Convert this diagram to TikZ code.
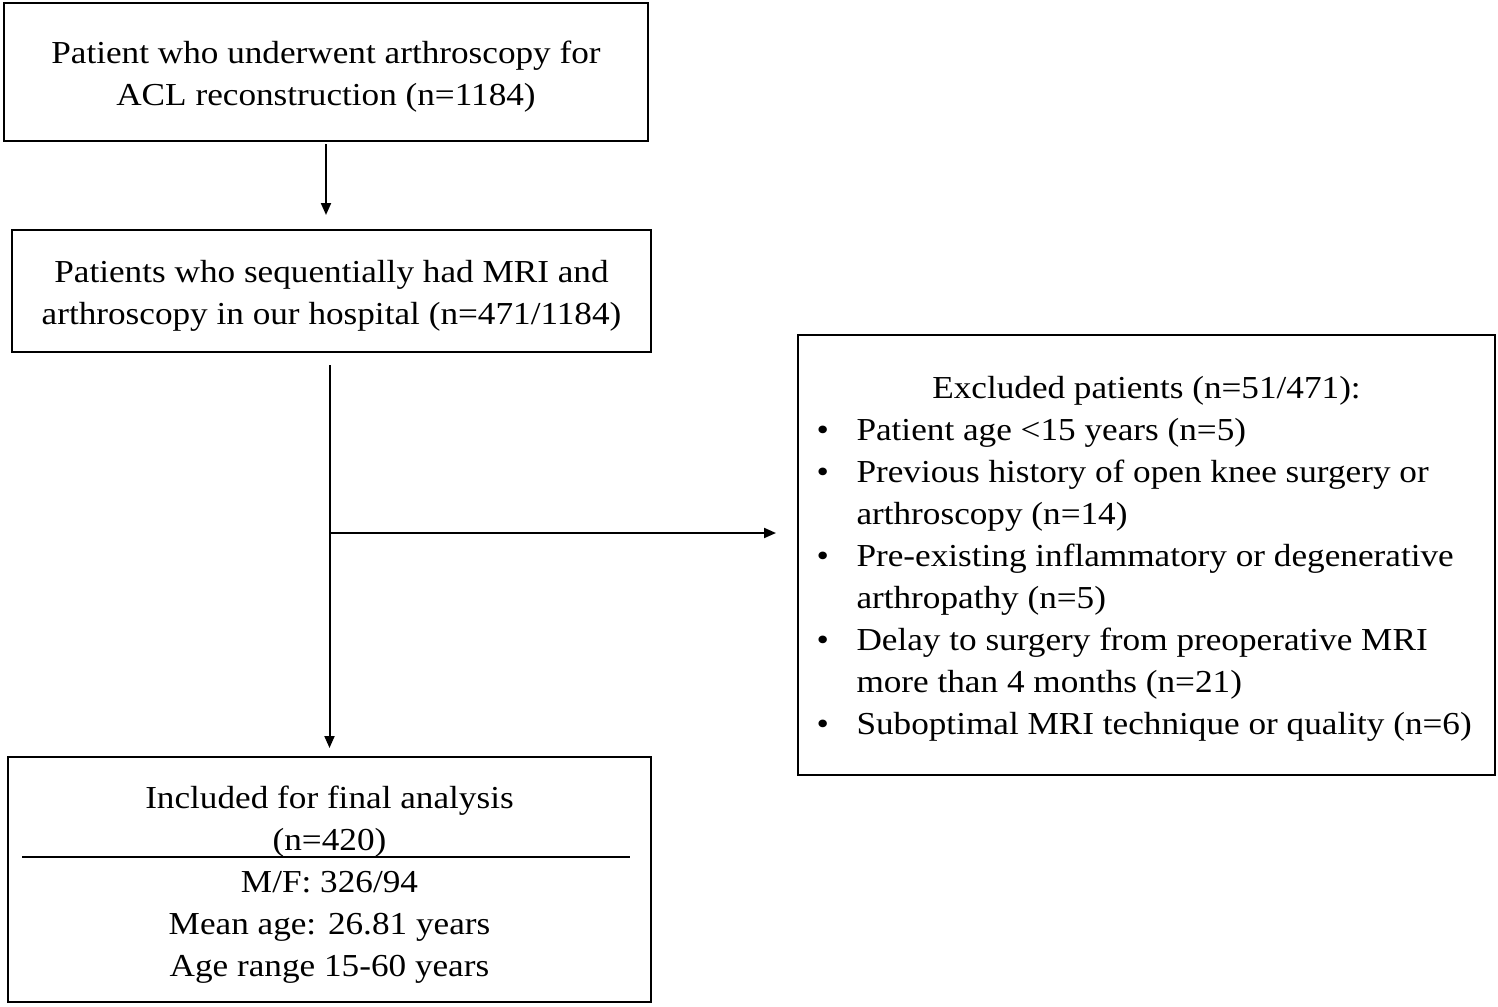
\documentclass[tikz,border=0pt]{standalone}
\usepackage{fontspec}
\setmainfont{Liberation Serif}[FakeStretch=1.1]
\usetikzlibrary{arrows.meta}
\begin{document}
\begin{tikzpicture}[x=1pt,y=-1pt,
  box/.style={draw, line width=2.8pt, inner sep=0pt, outer sep=0pt, anchor=north west, align=center, font=\fontsize{32}{42}\selectfont},
  conn/.style={line width=2pt, -{Triangle[length=12pt,width=10pt]}},
  rule/.style={line width=2.8pt}]
\useasboundingbox[fill=white] (0,0) rectangle (1498,1006);
\node[box, minimum width=644pt, minimum height=138pt] (a) at (4,3)
  {\rule{0pt}{32pt}Patient who underwent arthroscopy for\\ACL reconstruction (n=1184)};
\node[box, minimum width=639pt, minimum height=122pt] (b) at (12,230)
  {\rule{0pt}{32pt}Patients who sequentially had MRI and\\arthroscopy in our hospital (n=471/1184)};
\node[box, minimum width=643pt, minimum height=245pt] (c) at (8,757)
  {\rule{0pt}{32pt}Included for final analysis\\(n=420)\\M/F: 326/94\\Mean age: 26.81 years\\Age range 15-60 years};
\node[box, minimum width=697pt, minimum height=440pt, align=left] (d) at (798,335)
  {\begin{minipage}{660pt}\fontsize{32}{42}\selectfont
   \rule{0pt}{30pt}\makebox[660pt][c]{Excluded patients (n=51/471):}\\
   \makebox[40pt][l]{\textbullet}Patient age <15 years (n=5)\\
   \makebox[40pt][l]{\textbullet}Previous history of open knee surgery or\\
   \hspace*{40pt}arthroscopy (n=14)\\
   \makebox[40pt][l]{\textbullet}Pre-existing inflammatory or degenerative\\
   \hspace*{40pt}arthropathy (n=5)\\
   \makebox[40pt][l]{\textbullet}Delay to surgery from preoperative MRI\\
   \hspace*{40pt}more than 4 months (n=21)\\
   \makebox[40pt][l]{\textbullet}Suboptimal MRI technique or quality (n=6)
   \end{minipage}};
\coordinate (r1) at (22,857);
\coordinate (r2) at (630,857);
\draw[rule] (r1) -- (r2);
\draw[conn, shorten <=3pt, shorten >=15pt] (a.south) -- (a.south |- b.north);
\draw[conn, shorten <=13pt, shorten >=9pt] (b.south -| c.north) -- (c.north);
\coordinate (j) at (329,533);
\draw[conn, shorten >=22pt] (j) -- (j -| d.west);
\end{tikzpicture}
\end{document}
